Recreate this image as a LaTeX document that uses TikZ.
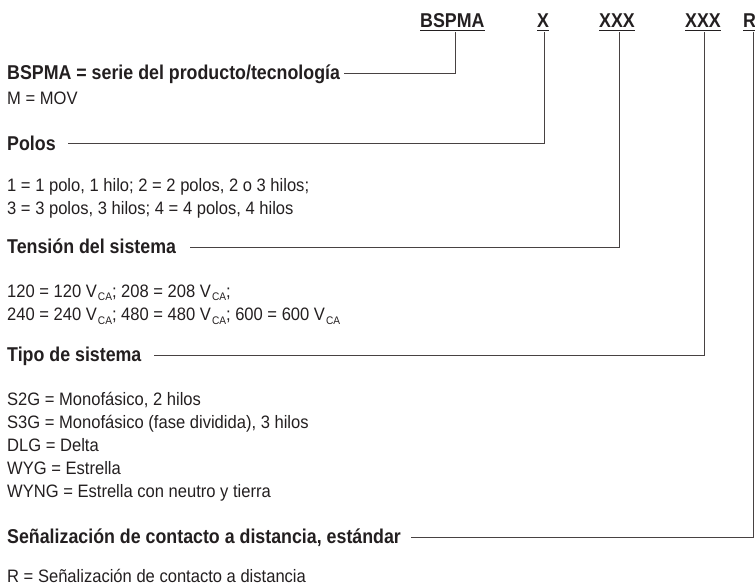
\documentclass[tikz,border=0pt]{standalone}
\usepackage{fontspec}
\setmainfont{Liberation Sans}[FakeStretch=0.92]
\newfontfamily\hfont{Liberation Sans}[FakeStretch=0.89]
\definecolor{ink}{RGB}{35,31,32}
\definecolor{rulec}{RGB}{72,66,66}
\newcommand{\sbs}[1]{\kern1pt{\fontsize{11}{11}\selectfont\raisebox{-3pt}{#1}}}
\tikzset{
  txt/.style={anchor=base west, inner sep=0pt, text=ink, font=\fontsize{18}{22.5}\selectfont},
  hd/.style={anchor=base west, inner sep=0pt, text=ink, font=\hfont\bfseries\fontsize{20}{24}\selectfont},
  codew/.style={anchor=base west, inner sep=0pt, text=ink, font=\hfont\bfseries\fontsize{20}{24}\selectfont},
  conn/.style={draw=rulec, line width=1pt},
  uline/.style={draw=ink, line width=1.3pt}
}
\begin{document}
\begin{tikzpicture}[x=1pt,y=1pt]
\useasboundingbox (0,0) rectangle (755,-585);
% code row
\node[codew] (cB) at (420,-28) {BSPMA};
\node[codew] (cX) at (537,-28) {X};
\node[codew] (cT) at (599,-28) {XXX};
\node[codew] (cS) at (685,-28) {XXX};
\node[codew] (cR) at (743,-28) {R};
\foreach \n in {cB,cX,cT,cS,cR}
  \draw[uline] ([yshift=-2.5pt]\n.base west) -- ([yshift=-2.5pt]\n.base east);
\coordinate (tB) at (455,-32);
\coordinate (tX) at (544,-32);
\coordinate (tT) at (619,-32);
\coordinate (tS) at (704,-32);
\coordinate (tR) at (753,-32);
% headings
\node[hd] (hB) at (7,-80) {BSPMA = serie del producto/tecnología};
\node[hd] (hP) at (7,-150.5) {Polos};
\node[hd] (hT) at (7,-254) {Tensión del sistema};
\node[hd] (hS) at (7,-361.5) {Tipo de sistema};
\node[hd] (hR) at (7,-543.5) {Señalización de contacto a distancia, estándar};
% body
\node[txt] (bM) at (7,-105) {M = MOV};
\node[txt] (bP1) at (7,-191.5) {1 = 1 polo, 1 hilo; 2 = 2 polos, 2 o 3 hilos;};
\node[txt] (bP2) at (7,-214.5) {3 = 3 polos, 3 hilos; 4 = 4 polos, 4 hilos};
\node[txt] (bT1) at (7,-298) {120 = 120 V\sbs{CA}; 208 = 208 V\sbs{CA};};
\node[txt] (bT2) at (7,-321) {240 = 240 V\sbs{CA}; 480 = 480 V\sbs{CA}; 600 = 600 V\sbs{CA}};
\node[txt] (bS1) at (7,-405) {S2G = Monofásico, 2 hilos};
\node[txt] (bS2) at (7,-428) {S3G = Monofásico (fase dividida), 3 hilos};
\node[txt] (bS3) at (7,-451) {DLG = Delta};
\node[txt] (bS4) at (7,-474) {WYG = Estrella};
\node[txt] (bS5) at (7,-497) {WYNG = Estrella con neutro y tierra};
\node[txt] (bR) at (7,-582) {R = Señalización de contacto a distancia};
% connectors
\draw[conn] (tB) |- ([shift={(4,6.5)}]hB.base east);
\draw[conn] (tX) |- ([shift={(12,6.5)}]hP.base east);
\draw[conn] (tT) |- ([shift={(14,6.5)}]hT.base east);
\draw[conn] (tS) |- ([shift={(12,6.5)}]hS.base east);
\draw[conn] (tR) |- ([shift={(10,6.5)}]hR.base east);
\end{tikzpicture}
\end{document}
